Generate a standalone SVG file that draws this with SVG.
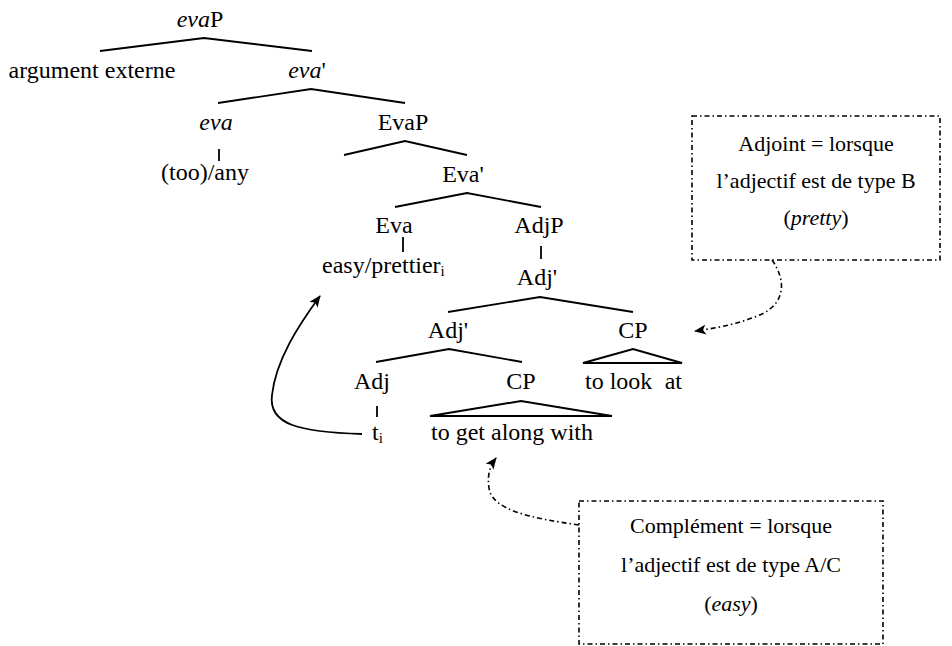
<svg xmlns="http://www.w3.org/2000/svg" width="952" height="646" viewBox="0 0 952 646" font-family="'Liberation Serif', 'Times New Roman', serif">
<style>
text{font-family:'Liberation Serif','Times New Roman',serif;font-size:24px;fill:#000}
.c{text-anchor:middle}
.it{font-style:italic}
.bx text{font-size:22px;text-anchor:middle}
.br{fill:none;stroke:#000;stroke-width:1.8}
.tri{fill:none;stroke:#000;stroke-width:2;stroke-linejoin:miter}
.dd{fill:none;stroke:#000;stroke-width:1.6;stroke-dasharray:5 3 1.5 3}
.mv{fill:none;stroke:#000;stroke-width:1.8}
</style>
<defs>
<marker id="ah" viewBox="0 0 12 10" refX="11" refY="5" markerWidth="12" markerHeight="10" markerUnits="userSpaceOnUse" orient="auto">
<path d="M0,0 L12,5 L0,10 L3,5 z" fill="#000"/>
</marker>
</defs>
<rect width="952" height="646" fill="#fff"/>

<g id="connectors">
<polyline class="br" points="100,51 204,38 312,51"/>
<polyline class="br" points="218,103 311,89 405,103"/>
<line class="br" x1="219" y1="149" x2="219" y2="161"/>
<polyline class="br" points="344,155 405,141 467,155"/>
<polyline class="br" points="395,207 467,193 541,207"/>
<line class="br" x1="403" y1="237" x2="403" y2="252"/>
<line class="br" x1="541" y1="246" x2="541" y2="259"/>
<polyline class="br" points="448,312 540,297 633,312"/>
<polyline class="br" points="376,362 449,349 522,362"/>
<polygon class="tri" points="583,363 633,349 682,363"/>
<line class="br" x1="377" y1="406" x2="377" y2="417"/>
<polygon class="tri" points="430,416 521,401 612,416"/>
<path class="mv" d="M362,434 C300,432 268,425 272,395 C276,360 298,326 320,296" marker-end="url(#ah)"/>
<path class="dd" d="M772,260 C786,280 786,302 762,314 C742,323 718,328 695,331" marker-end="url(#ah)"/>
<path class="dd" d="M579,525 C530,518 492,510 489,488 C487,475 490,466 496,458" marker-end="url(#ah)"/>
</g>

<g id="evaP"><text class="c" x="200" y="27"><tspan class="it">eva</tspan>P</text></g>
<g id="argument-externe"><text class="c" x="92" y="78">argument externe</text></g>
<g id="eva-bar"><text class="c" x="307" y="78"><tspan class="it">eva</tspan>'</text></g>
<g id="eva"><text class="c it" x="216" y="130">eva</text></g>
<g id="too-any"><text class="c" x="205" y="180">(too)/any</text></g>
<g id="EvaP"><text class="c" x="403" y="130">EvaP</text></g>
<g id="Eva-bar"><text class="c" x="463" y="182">Eva'</text></g>
<g id="Eva"><text class="c" x="394" y="233">Eva</text></g>
<g id="easy-prettier"><text x="322" y="273">easy/prettier<tspan font-size="15" dy="3">i</tspan></text></g>
<g id="AdjP"><text class="c" x="539" y="233">AdjP</text></g>
<g id="Adj-bar-1"><text class="c" x="537" y="285">Adj'</text></g>
<g id="Adj-bar-2"><text class="c" x="448" y="338">Adj'</text></g>
<g id="CP-1"><text class="c" x="633" y="338">CP</text></g>
<g id="to-look-at"><text x="585" y="389">to look</text><text x="682" y="389" text-anchor="end">at</text></g>
<g id="Adj"><text class="c" x="372" y="389">Adj</text></g>
<g id="CP-2"><text class="c" x="521" y="389">CP</text></g>
<g id="trace"><text x="372" y="440">t<tspan font-size="15" dy="3">i</tspan></text></g>
<g id="to-get-along-with"><text x="431" y="440">to get along with</text></g>

<g id="box-adjoint" class="bx">
<rect class="dd" x="692" y="116" width="248" height="144"/>
<text x="816" y="151">Adjoint = lorsque</text>
<text x="816" y="188">l’adjectif est de type B</text>
<text x="816" y="225">(<tspan class="it">pretty</tspan>)</text>
</g>
<g id="box-complement" class="bx">
<rect class="dd" x="579" y="501" width="304" height="143"/>
<text x="731" y="533">Complément = lorsque</text>
<text x="731" y="572">l’adjectif est de type A/C</text>
<text x="731" y="611">(<tspan class="it">easy</tspan>)</text>
</g>
</svg>
